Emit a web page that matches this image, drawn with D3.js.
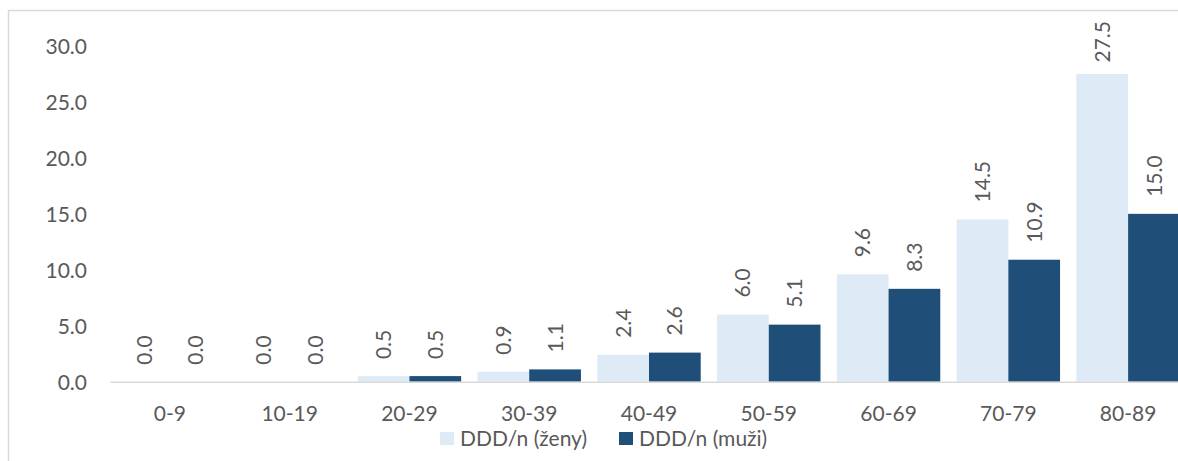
<!DOCTYPE html>
<html>
<head>
<meta charset="utf-8">
<script src="https://cdn.jsdelivr.net/npm/d3@7"></script>
<style>
  html, body { margin: 0; padding: 0; background: #fff; }
  svg { display: block; }
  text { font-family: Lato, "Open Sans", sans-serif; fill: #595959; }
</style>
</head>
<body>
<svg id="chart" width="1178" height="461"></svg>
<script>
// Age groups and average DDD per person for women and men
const categories = ["0-9", "10-19", "20-29", "30-39", "40-49", "50-59", "60-69", "70-79", "80-89"];
const women = [0.0, 0.0, 0.5, 0.9, 2.4, 6.0, 9.6, 14.5, 27.5];
const men = [0.0, 0.0, 0.5, 1.1, 2.6, 5.1, 8.3, 10.9, 15.0];
const seriesNames = ["DDD/n (ženy)", "DDD/n (muži)"];
const yTicks = [0, 5, 10, 15, 20, 25, 30];

const colors = ["#DEEBF7", "#1F4E79"];
const fontSize = 21;

const svg = d3.select("#chart");

// chart area frame
svg.append("rect")
  .attr("x", 8.5).attr("y", 10.5)
  .attr("width", 1300).attr("height", 600)
  .attr("fill", "none").attr("stroke", "#d9d9d9").attr("stroke-width", 1.5);

const plot = { left: 110, right: 1188, top: 46, bottom: 381.7 };

const x = d3.scaleBand()
  .domain(categories)
  .range([plot.left, plot.right])
  .paddingInner(0.1365)
  .paddingOuter(0.1365 / 2);

const xs = d3.scaleBand()
  .domain([0, 1])
  .range([0, x.bandwidth()]);

const y = d3.scaleLinear()
  .domain([0, 30])
  .range([plot.bottom, plot.top]);

// y axis labels (no axis line, no gridlines)
const yAxis = d3.axisLeft(y)
  .tickValues(yTicks)
  .tickFormat(d3.format(".1f"))
  .tickSize(0)
  .tickPadding(0);
const gy = svg.append("g")
  .attr("transform", "translate(87,0)")
  .call(yAxis);
gy.select(".domain").remove();
gy.selectAll("text")
  .attr("font-size", fontSize)
  .attr("font-family", null)
  .attr("fill", null)
  .attr("dy", "0.36em");

// bars
const data = categories.map((c, i) => ({ cat: c, vals: [women[i], men[i]] }));
const groups = svg.append("g").selectAll("g")
  .data(data).join("g")
  .attr("transform", d => `translate(${x(d.cat)},0)`);

groups.selectAll("rect")
  .data(d => d.vals.map((v, k) => ({ v, k })))
  .join("rect")
  .attr("x", d => xs(d.k))
  .attr("width", xs.bandwidth())
  .attr("y", d => y(d.v))
  .attr("height", d => y(0) - y(d.v))
  .attr("fill", d => colors[d.k]);

// x axis line
const xAxis = d3.axisBottom(x).tickSize(0).tickPadding(0);
const gx = svg.append("g")
  .attr("transform", `translate(0,${plot.bottom})`)
  .call(xAxis);
gx.select(".domain")
  .attr("stroke", "#d9d9d9")
  .attr("stroke-width", 1.5);
gx.selectAll("text")
  .attr("font-size", fontSize)
  .attr("font-family", null)
  .attr("fill", null)
  .attr("dy", null)
  .attr("y", 39);

// rotated value labels above bars
groups.selectAll("text.val")
  .data(d => d.vals.map((v, k) => ({ v, k })))
  .join("text")
  .attr("class", "val")
  .attr("font-size", fontSize)
  .text(d => d.v.toFixed(1))
  .each(function (d) {
    const len = this.getComputedTextLength();
    const cx = xs(d.k) + xs.bandwidth() / 2;
    const start = Math.max(y(d.v) - 17, 21 + len);
    d3.select(this)
      .attr("transform", `translate(${cx},${start}) rotate(-90)`)
      .attr("dy", "0.36em");
  });

// legend
const legend = svg.append("g");
const legendX = [440, 619];
seriesNames.forEach((name, k) => {
  legend.append("rect")
    .attr("x", legendX[k]).attr("y", 432)
    .attr("width", 14).attr("height", 13)
    .attr("fill", colors[k]);
  legend.append("text")
    .attr("x", legendX[k] + 20).attr("y", 446)
    .attr("font-size", fontSize)
    .text(name);
});
</script>
</body>
</html>
